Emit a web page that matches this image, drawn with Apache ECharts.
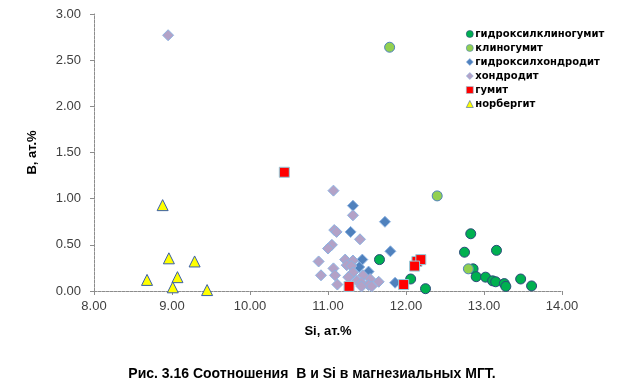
<!DOCTYPE html>
<html>
<head>
<meta charset="utf-8">
<script src="https://cdn.jsdelivr.net/npm/echarts@6/dist/echarts.min.js"></script>
<style>
html,body{margin:0;padding:0;background:#fff;}
#c{width:624px;height:379px;}
</style>
</head>
<body>
<div id="c"></div>
<script>
const seriesNames = ['гидроксилклиногумит','клиногумит','гидроксилхондродит','хондродит','гумит','норбергит'];
const hydroxylClinohumite = [[11.66,0.34],[12.06,0.13],[12.25,0.025],[12.83,0.62],[12.75,0.42],[13.16,0.44],[12.86,0.24],[12.90,0.155],[13.02,0.15],[13.11,0.11],[13.15,0.10],[13.26,0.08],[13.28,0.05],[13.47,0.13],[13.61,0.055]];
const clinohumite = [[11.79,2.64],[12.40,1.03],[12.80,0.24]];
const hydroxylChondrodite = [[11.32,0.924],[11.73,0.75],[11.29,0.64],[11.80,0.43],[11.44,0.34],[11.40,0.26],[11.52,0.21],[11.86,0.09]];
const chondrodite = [[8.95,2.77],[11.07,1.087],[11.32,0.82],[11.08,0.66],[11.11,0.64],[11.41,0.56],[11.05,0.50],[11.00,0.46],[10.88,0.32],[11.22,0.34],[11.32,0.33],[11.24,0.28],[11.30,0.27],[11.07,0.245],[11.09,0.17],[10.91,0.17],[11.32,0.20],[11.26,0.15],[11.45,0.17],[11.37,0.11],[11.43,0.09],[11.54,0.13],[11.65,0.10],[11.12,0.07],[11.52,0.065],[11.56,0.05],[11.43,0.05]];
const humite = [[10.44,1.286],[12.14,0.32],[12.19,0.34],[12.11,0.27],[11.27,0.05],[11.97,0.07]];
const norbergite = [[8.88,0.93],[8.96,0.354],[9.29,0.32],[8.68,0.12],[9.07,0.15],[9.01,0.04],[9.45,0.01]];
const xTicks = [8,9,10,11,12,13,14];
const yTicks = [0,0.5,1,1.5,2,2.5,3];
const caption = 'Рис. 3.16 Соотношения  B и Si в магнезиальных МГТ.';

const chart = echarts.init(document.getElementById('c'), null, {renderer:'canvas'});
const axisLineStyle = {color:'#8c8c8c', width:1, type:[3,1]};
function mk(name, data, symbol, size, fill, border){
  return {name, type:'scatter', data, symbol, symbolSize:size,
    itemStyle:{color:fill, borderColor:border, borderWidth:1, opacity:1},
    emphasis:{disabled:true}, animation:false};
}
chart.setOption({
  animation:false,
  backgroundColor:'#ffffff',
  grid:{left:94, right:62, top:14, bottom:88, containLabel:false},
  title:{text:caption, left:'center', top:362,
    textStyle:{fontFamily:'Liberation Sans Narrow, Liberation Sans, sans-serif', fontWeight:'bold', fontSize:14, color:'#000'}},
  legend:{orient:'vertical', left:461, top:23, itemWidth:7, itemHeight:7, itemGap:2,
    data:seriesNames,
    itemStyle:{borderWidth:0.6},
    textStyle:{fontFamily:'DejaVu Sans', fontWeight:'bold', fontSize:10, color:'#000', lineHeight:12, padding:[0,0,0,-3]}},
  xAxis:{type:'value', min:xTicks[0], max:xTicks[xTicks.length-1], interval:1,
    name:'Si, ат.%', nameLocation:'middle', nameGap:34,
    nameTextStyle:{fontFamily:'Liberation Sans', fontWeight:'bold', fontSize:13, color:'#000'},
    axisLine:{show:true, lineStyle:axisLineStyle},
    axisTick:{show:true, length:4, inside:false, lineStyle:{color:'#8c8c8c'}},
    axisLabel:{formatter:v=>v.toFixed(2), margin:9, fontFamily:'Liberation Sans', fontSize:13, color:'#404040'},
    splitLine:{show:false}},
  yAxis:{type:'value', min:yTicks[0], max:yTicks[yTicks.length-1], interval:0.5,
    name:'B, ат.%', nameLocation:'middle', nameGap:55,
    nameTextStyle:{fontFamily:'Liberation Sans', fontWeight:'bold', fontSize:13, color:'#000'},
    axisLine:{show:true, lineStyle:axisLineStyle},
    axisTick:{show:true, length:4, inside:false, lineStyle:{color:'#8c8c8c'}},
    axisLabel:{formatter:v=>v.toFixed(2), margin:13, fontFamily:'Liberation Sans', fontSize:13, color:'#404040'},
    splitLine:{show:false}},
  series:[
    mk(seriesNames[0], hydroxylClinohumite, 'circle', 10, '#00b050', '#2a4a7a'),
    mk(seriesNames[1], clinohumite, 'circle', 10, '#92d050', '#4f81bd'),
    mk(seriesNames[2], hydroxylChondrodite, 'diamond', 11, '#4f81bd', '#8db3e2'),
    mk(seriesNames[3], chondrodite, 'diamond', 11, '#b3a2c7', '#8db3e2'),
    mk(seriesNames[4], humite, 'rect', 10, '#ff0000', '#93cddd'),
    mk(seriesNames[5], norbergite, 'triangle', 11, '#ffff00', '#3a5fa8')
  ]
});
</script>
</body>
</html>
